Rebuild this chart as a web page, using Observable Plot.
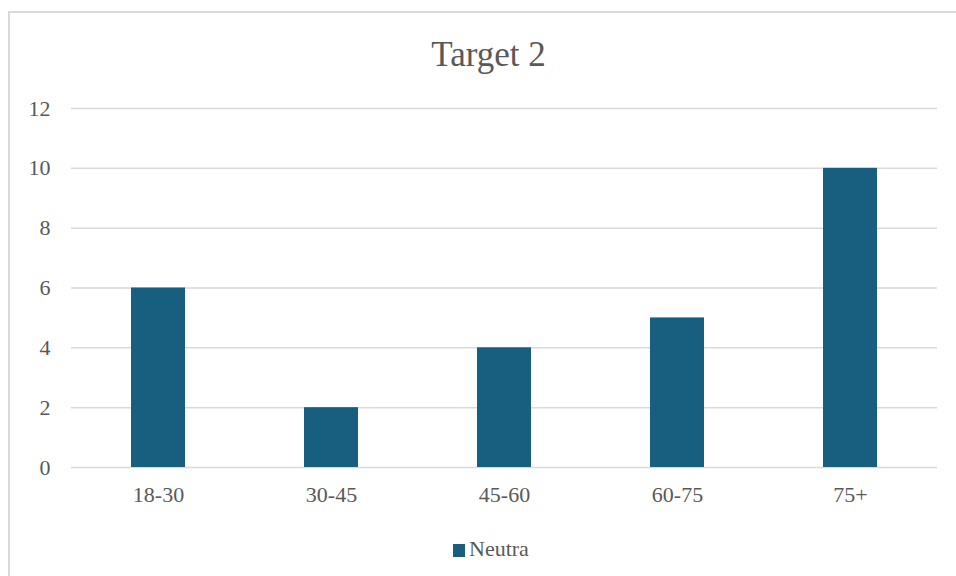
<!DOCTYPE html>
<html>
<head>
<meta charset="utf-8">
<script src="https://cdn.jsdelivr.net/npm/d3@7"></script>
<script src="https://cdn.jsdelivr.net/npm/@observablehq/plot@0.6"></script>
<style>
  html, body { margin: 0; padding: 0; background: #fff; }
  #wrap { position: relative; width: 956px; height: 576px; overflow: hidden; font-family: "Liberation Serif", serif; color: #595959; }
  #wrap svg text { font-family: "Liberation Serif", serif !important; }
  #frame { position: absolute; left: 8px; top: 11px; width: 1000px; height: 700px; border: 2px solid #d9d9d9; box-sizing: border-box; }
  #title { position: absolute; left: 0; width: 977px; top: 37px; text-align: center; font-size: 35px; line-height: 1; font-family: "Liberation Serif", serif; }
  #legend { position: absolute; left: 453px; top: 538px; font-size: 22px; line-height: 1; display: flex; align-items: center; font-family: "Liberation Serif", serif; }
  #legend .sw { width: 12px; height: 13px; background: #175e7f; margin-right: 4px; margin-top: 3px; }
  #chart { position: absolute; left: 0; top: 0; }
</style>
</head>
<body>
<div id="wrap">
  <div id="frame"></div>
  <div id="chart"></div>
  <div id="title">Target 2</div>
  <div id="legend"><span class="sw"></span><span>Neutra</span></div>
</div>
<script>
const categories = ["18-30", "30-45", "45-60", "60-75", "75+"];
const values = [6, 2, 4, 5, 10];
const yTicks = [0, 2, 4, 6, 8, 10, 12];
const seriesName = "Neutra";

const data = categories.map((c, i) => ({category: c, value: values[i], series: seriesName}));

const chart = Plot.plot({
  width: 956,
  height: 576,
  marginLeft: 71,
  marginRight: 19,
  marginTop: 108,
  marginBottom: 109,
  style: {fontFamily: "Liberation Serif, serif", fontSize: "22px", color: "#595959", background: "transparent"},
  x: {domain: categories, paddingInner: 0.69, paddingOuter: 0.345, label: null},
  y: {domain: [0, 12], label: null},
  marks: [
    Plot.ruleY(yTicks, {stroke: "#d9d9d9", strokeWidth: 1.5}),
    Plot.barY(data, {x: "category", y: "value", fill: "#175e7f"}),
    Plot.axisY({ticks: yTicks, tickSize: 0, tickPadding: 21, label: null, fill: "#595959", fontSize: 22}),
    Plot.axisX({tickSize: 0, tickPadding: 19, label: null, fill: "#595959", fontSize: 22})
  ]
});
document.getElementById("chart").appendChild(chart);
</script>
</body>
</html>
